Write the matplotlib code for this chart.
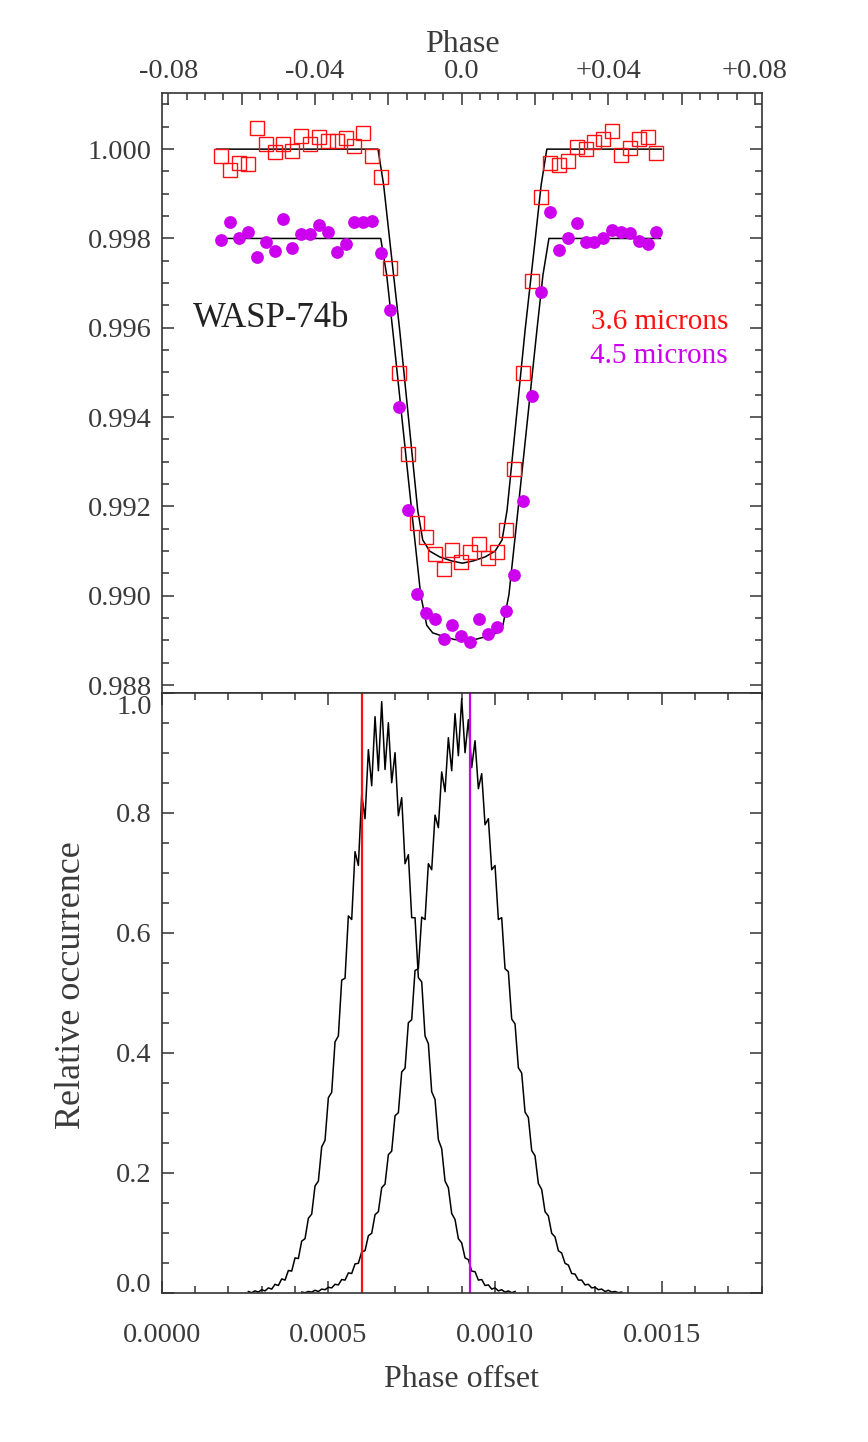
import matplotlib
matplotlib.use('Agg')
import matplotlib.pyplot as plt
from matplotlib.ticker import FixedLocator, MultipleLocator, FuncFormatter
import numpy as np

plt.rcParams['font.family'] = ['Liberation Serif', 'DejaVu Serif']

# --- top panel: binned light curves (phase, relative flux) ---
phase = [-0.06552, -0.06307, -0.06072, -0.05821, -0.05582, -0.05339, -0.05104,
         -0.04859, -0.04616, -0.04376, -0.04131, -0.03891, -0.03646, -0.03408,
         -0.03168, -0.02923, -0.02678, -0.02435, -0.02195, -0.01950, -0.01710,
         -0.01467, -0.01222, -0.00982, -0.00736, -0.00494, -0.00254, -0.00014,
         0.00226, 0.00472, 0.00714, 0.00960, 0.01197, 0.01431, 0.01677, 0.01920,
         0.02162, 0.02419, 0.02653, 0.02898, 0.03136, 0.03381, 0.03618, 0.03864,
         0.04104, 0.04349, 0.04589, 0.04826, 0.05072, 0.05309]

flux_36 = [0.99984, 0.99953, 0.99969, 0.99967, 1.00047, 1.00012, 0.99993, 1.00011,
           0.99995, 1.00029, 1.00012, 1.00028, 1.00018, 1.00018, 1.00025, 1.00007,
           1.00036, 0.99984, 0.99938, 0.99734, 0.99499, 0.99317, 0.99163, 0.99132,
           0.99093, 0.99061, 0.99102, 0.99076, 0.99097, 0.99116, 0.99085, 0.99099,
           0.99147, 0.99283, 0.99498, 0.99705, 0.99893, 0.99968, 0.99964, 0.99974,
           1.00005, 1.00000, 1.00017, 1.00022, 1.00041, 0.99987, 1.00003, 1.00022,
           1.00027, 0.99992]

flux_45 = [0.99796, 0.99836, 0.99801, 0.99815, 0.99759, 0.99791, 0.99771, 0.99843,
           0.99778, 0.99809, 0.99811, 0.99830, 0.99814, 0.99769, 0.99788, 0.99837,
           0.99837, 0.99840, 0.99768, 0.99640, 0.99422, 0.99193, 0.99005, 0.98962,
           0.98949, 0.98904, 0.98934, 0.98911, 0.98896, 0.98949, 0.98914, 0.98931,
           0.98966, 0.99046, 0.99213, 0.99447, 0.99680, 0.99860, 0.99774, 0.99802,
           0.99835, 0.99791, 0.99791, 0.99802, 0.99820, 0.99815, 0.99813, 0.99795,
           0.99787, 0.99814]

# transit models
model_36_phase = [-0.06689, -0.02282, -0.02127, -0.01963, -0.01691, -0.01418, -0.01200,
                  -0.01063, -0.00873, -0.00600, -0.00273, 0.00019, 0.00311, 0.00638,
                  0.00911, 0.01101, 0.01238, 0.01456, 0.01729, 0.02002, 0.02165,
                  0.02321, 0.05445]
model_36_flux = [1.00000, 1.00000, 0.99919, 0.99796, 0.99595, 0.99371, 0.99192,
                 0.99125, 0.99100, 0.99087, 0.99078, 0.99073, 0.99078, 0.99087,
                 0.99100, 0.99125, 0.99192, 0.99371, 0.99595, 0.99796, 0.99919,
                 1.00000, 1.00000]
model_45_phase = [-0.06672, -0.02208, -0.02045, -0.01881, -0.01609, -0.01336, -0.01118,
                  -0.00954, -0.00791, -0.00464, -0.00191, 0.00085, 0.00360, 0.00633,
                  0.00960, 0.01124, 0.01287, 0.01505, 0.01778, 0.02051, 0.02215,
                  0.02378, 0.05418]
model_45_flux = [0.99800, 0.99800, 0.99718, 0.99595, 0.99382, 0.99169, 0.99002,
                 0.98934, 0.98917, 0.98908, 0.98902, 0.98901, 0.98902, 0.98908,
                 0.98917, 0.98934, 0.99002, 0.99169, 0.99382, 0.99595, 0.99718,
                 0.99800, 0.99800]

# --- bottom panel: histograms of phase offset ---
hist_36_start, hist_45_start, bin_w = 0.00026, 0.00042, 0.00001
hist_36 = [0.002, 0.000, 0.003, 0.001, 0.005, 0.003, 0.008, 0.006, 0.014, 0.012,
           0.023, 0.021, 0.037, 0.036, 0.058, 0.057, 0.086, 0.090, 0.124, 0.131,
           0.178, 0.186, 0.243, 0.254, 0.325, 0.334, 0.418, 0.428, 0.521, 0.524,
           0.628, 0.622, 0.735, 0.712, 0.830, 0.790, 0.905, 0.845, 0.960, 0.870,
           0.985, 0.872, 0.950, 0.850, 0.900, 0.795, 0.825, 0.715, 0.730, 0.625,
           0.625, 0.525, 0.518, 0.428, 0.415, 0.335, 0.322, 0.255, 0.240, 0.186,
           0.175, 0.132, 0.122, 0.090, 0.083, 0.058, 0.055, 0.036, 0.035, 0.021,
           0.022, 0.012, 0.013, 0.006, 0.008, 0.003, 0.005, 0.001, 0.003, 0.000,
           0.002]
hist_45 = [0.001, 0.000, 0.002, 0.001, 0.004, 0.002, 0.006, 0.005, 0.009, 0.008,
           0.014, 0.013, 0.022, 0.021, 0.033, 0.032, 0.048, 0.049, 0.068, 0.070,
           0.095, 0.099, 0.130, 0.135, 0.175, 0.181, 0.230, 0.236, 0.295, 0.300,
           0.368, 0.374, 0.450, 0.455, 0.537, 0.540, 0.626, 0.622, 0.715, 0.705,
           0.796, 0.775, 0.868, 0.835, 0.925, 0.870, 0.965, 0.895, 0.990, 0.900,
           0.955, 0.875, 0.920, 0.840, 0.865, 0.780, 0.790, 0.705, 0.712, 0.622,
           0.625, 0.540, 0.535, 0.456, 0.448, 0.375, 0.366, 0.301, 0.292, 0.237,
           0.228, 0.182, 0.172, 0.135, 0.128, 0.099, 0.093, 0.070, 0.066, 0.049,
           0.046, 0.032, 0.031, 0.021, 0.021, 0.013, 0.014, 0.008, 0.009, 0.005,
           0.006, 0.002, 0.004, 0.001, 0.002, 0.000, 0.001]
best_36 = 0.00060
best_45 = 0.000925

RED = '#ff1010'
MAG = '#cc00ee'
TXT = '#3a3a3a'
W, H = 868.0, 1442.0


def fx(x):
    return x / W


def fy(y):
    return 1.0 - y / H


def style_axes(ax):
    for s in ax.spines.values():
        s.set_color('#333333')
        s.set_linewidth(1.2)
    ax.tick_params(which='both', direction='in', colors='#333333',
                   labelcolor=TXT, labelsize=20.5, width=1.1)
    ax.tick_params(which='major', length=8.5)
    ax.tick_params(which='minor', length=4.8)


fig = plt.figure(figsize=(8.68, 14.42), dpi=100)
ax1 = fig.add_axes([fx(161.7), fy(692.7), 600 / W, 599.4 / H])
ax2 = fig.add_axes([fx(161.7), fy(1292.7), 600 / W, 600 / H])

# top panel
ax1.plot(model_36_phase, model_36_flux, color='black', lw=1.1, zorder=2)
ax1.plot(model_45_phase, model_45_flux, color='black', lw=1.1, zorder=2)
ax1.plot(phase, flux_36, ls='none', marker='s', ms=9.5, mfc='none', mec=RED,
         mew=1.0, zorder=3)
ax1.plot(phase, flux_45, ls='none', marker='o', ms=9.2, mfc=MAG, mec=MAG,
         mew=0, zorder=3)
ax1.set_xlim(-0.0818, 0.0818)
ax1.set_ylim(0.98783, 1.00125)
style_axes(ax1)
ax1.xaxis.set_major_locator(FixedLocator([-0.08, -0.06, -0.04, -0.02, 0.0,
                                          0.02, 0.04, 0.06, 0.08]))
ax1.xaxis.set_minor_locator(MultipleLocator(0.005))
top_lbl = {-0.08: '-0.08', -0.04: '-0.04', 0.0: '0.0', 0.04: '+0.04', 0.08: '+0.08'}
ax1.xaxis.set_major_formatter(FuncFormatter(
    lambda v, p: top_lbl.get(round(v, 2), '')))
ax1.tick_params(axis='x', which='both', top=True, bottom=False,
                labeltop=True, labelbottom=False, pad=7)
ax1.yaxis.set_major_locator(MultipleLocator(0.002))
ax1.yaxis.set_minor_locator(MultipleLocator(0.0005))
ax1.yaxis.set_major_formatter(FuncFormatter(lambda v, p: '%.3f' % v))
ax1.tick_params(axis='y', which='both', left=True, right=True, pad=7)

fig.text(fx(193), fy(327), 'WASP-74b', fontsize=25, color='#222222',
         ha='left', va='baseline')
fig.text(fx(728), fy(329), '3.6 microns', fontsize=21, color=RED,
         ha='right', va='baseline')
fig.text(fx(728), fy(363), '4.5 microns', fontsize=21, color=MAG,
         ha='right', va='baseline')
fig.text(fx(462), fy(52), 'Phase', fontsize=23, color=TXT, ha='center',
         va='baseline')

# bottom panel
x36 = hist_36_start + bin_w * np.arange(len(hist_36))
x45 = hist_45_start + bin_w * np.arange(len(hist_45))
ax2.plot(x36, hist_36, color='black', lw=1.1)
ax2.plot(x45, hist_45, color='black', lw=1.1)
ax2.axvline(best_36, color=RED, lw=1.6)
ax2.axvline(best_45, color=MAG, lw=1.6)
ax2.set_xlim(0, 0.0018)
ax2.set_ylim(0, 1.0)
style_axes(ax2)
ax2.xaxis.set_major_locator(MultipleLocator(0.0005))
ax2.xaxis.set_minor_locator(MultipleLocator(0.0001))
ax2.xaxis.set_major_formatter(FuncFormatter(lambda v, p: '%.4f' % v))
ax2.tick_params(axis='x', which='both', top=True, bottom=True, pad=22)
ax2.yaxis.set_major_locator(MultipleLocator(0.2))
ax2.yaxis.set_minor_locator(MultipleLocator(0.05))
# end labels sit inside the axis range, drawn below with an offset
ax2.yaxis.set_major_formatter(FuncFormatter(
    lambda v, p: '' if (abs(v) < 1e-9 or abs(v - 1) < 1e-9) else '%.1f' % v))
ax2.tick_params(axis='y', which='both', left=True, right=True, pad=7)
for val, dy in [(1.0, -8.5), (0.0, 7.5)]:
    ax2.annotate('%.1f' % val, xy=(0, val), xycoords=('axes fraction', 'data'),
                 xytext=(-7, dy), textcoords='offset points', ha='right',
                 va='center_baseline', fontsize=20.5, color=TXT)

fig.text(fx(462), fy(1387), 'Phase offset', fontsize=23, color=TXT,
         ha='center', va='baseline')
fig.text(fx(72), fy(985), 'Relative occurrence', fontsize=26, color=TXT,
         ha='center', va='center', rotation=90)

fig.savefig('out.png', dpi=100)
